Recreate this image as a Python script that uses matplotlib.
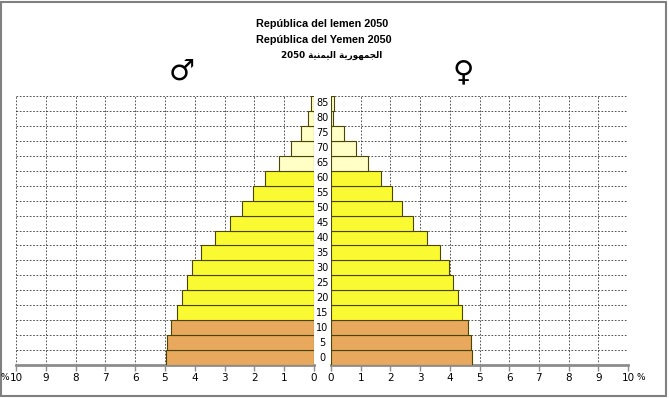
import matplotlib
matplotlib.use("Agg")
import matplotlib.pyplot as plt
from matplotlib.patches import Rectangle

# ---------------- data ----------------
ages = [0, 5, 10, 15, 20, 25, 30, 35, 40, 45, 50, 55, 60, 65, 70, 75, 80, 85]
male = [4.97, 4.92, 4.81, 4.60, 4.43, 4.27, 4.10, 3.78, 3.32, 2.82, 2.43, 2.04, 1.64, 1.19, 0.76, 0.43, 0.19, 0.09]
female = [4.74, 4.70, 4.60, 4.42, 4.26, 4.12, 3.98, 3.68, 3.24, 2.77, 2.40, 2.06, 1.68, 1.24, 0.83, 0.45, 0.06, 0.10]
xticks = [0, 1, 2, 3, 4, 5, 6, 7, 8, 9, 10]
title1 = "República del Iemen 2050"
title2 = "República del Yemen 2050"
title3_ar = "الجمهورية اليمنية"
title3_num = "2050"

# ---------------- simple Arabic shaping (visual form) ----------------
FORMS = {
    'ا': ('\uFE8D', '\uFE8E', None, None),
    'ل': ('\uFEDD', '\uFEDE', '\uFEDF', '\uFEE0'),
    'ج': ('\uFE9D', '\uFE9E', '\uFE9F', '\uFEA0'),
    'م': ('\uFEE1', '\uFEE2', '\uFEE3', '\uFEE4'),
    'ه': ('\uFEE9', '\uFEEA', '\uFEEB', '\uFEEC'),
    'و': ('\uFEED', '\uFEEE', None, None),
    'ر': ('\uFEAD', '\uFEAE', None, None),
    'ي': ('\uFEF1', '\uFEF2', '\uFEF3', '\uFEF4'),
    'ة': ('\uFE93', '\uFE94', None, None),
    'ن': ('\uFEE5', '\uFEE6', '\uFEE7', '\uFEE8'),
}


def shape(text):
    out = []
    n = len(text)
    for i, ch in enumerate(text):
        if ch not in FORMS:
            out.append(ch)
            continue
        iso, fin, ini, med = FORMS[ch]
        prev = text[i - 1] if i > 0 else None
        nxt = text[i + 1] if i < n - 1 else None
        join_prev = prev in FORMS and FORMS[prev][2] is not None
        join_next = nxt in FORMS and ini is not None
        if join_prev and join_next:
            out.append(med)
        elif join_prev:
            out.append(fin)
        elif join_next:
            out.append(ini)
        else:
            out.append(iso)
    return ''.join(out)[::-1]


def colour(age):
    if age < 15:
        return '#E8A95E'
    if age < 65:
        return '#FAFA32'
    return '#FFFFC6'


colors = [colour(a) for a in ages]

W, H = 669, 398
fig = plt.figure(figsize=(W / 100, H / 100), dpi=100)
fig.patch.set_facecolor('white')

def fx(px):
    return px / W

def fy(py):
    return 1 - py / H

top_px, bot_px = 96, 365
axL = fig.add_axes([fx(16), fy(bot_px), fx(314 - 16), (bot_px - top_px) / H])
axR = fig.add_axes([fx(331), fy(bot_px), fx(628 - 331), (bot_px - top_px) / H])

grid_kw = dict(color='#333333', linestyle=(0, (2, 2)), linewidth=0.6, zorder=1)
edge = '#4a4500'
tick_font = ['Liberation Sans Narrow', 'DejaVu Sans']

for ax, vals in ((axL, male), (axR, female)):
    ax.barh(ages, vals, height=5, align='edge', color=colors,
            edgecolor=edge, linewidth=0.8, zorder=3)
    ax.set_xlim(0, 10)
    ax.set_ylim(0, 90)
    for x in xticks[1:]:
        ax.axvline(x, **grid_kw)
    for a in ages[1:] + [90]:
        ax.axhline(a, **grid_kw)
    for s in ('top', 'left', 'right'):
        ax.spines[s].set_visible(False)
    ax.spines['bottom'].set_color('#8c8c8c')
    ax.spines['bottom'].set_linewidth(2)
    ax.set_yticks([])
    ax.set_xticks(xticks)
    ax.set_xticklabels([str(t) for t in xticks], family=tick_font, fontsize=7.5)
    ax.tick_params(axis='x', length=4, width=1, color='#8c8c8c', pad=2)
    ax.set_facecolor('none')

axL.invert_xaxis()

# age labels in the gap
for a in ages:
    fig.text(fx(322.5), fy(bot_px - (a + 2.5) / 90 * (bot_px - top_px)), str(a),
             ha='center', va='center', fontsize=7, family=tick_font)

# percent signs
fig.text(fx(5), fy(377), '%', ha='center', va='center', fontsize=6.5, family=tick_font)
fig.text(fx(641), fy(378), '%', ha='center', va='center', fontsize=6.5, family=tick_font)

# titles
fig.text(fx(256), fy(24), title1, ha='left', va='center', fontsize=7.8,
         fontweight='bold', family='Liberation Sans')
fig.text(fx(256), fy(40), title2, ha='left', va='center', fontsize=7.8,
         fontweight='bold', family='Liberation Sans')
fig.text(fx(332), fy(55), title3_num + ' ' + shape(title3_ar), ha='center', va='center',
         fontsize=6.3, fontweight='bold', family=['DejaVu Sans'])

# sex symbols
fig.text(fx(182), fy(72), '\u2642', ha='center', va='center', fontsize=21, family='DejaVu Sans')
fig.text(fx(463), fy(72), '\u2640', ha='center', va='center', fontsize=21, family='DejaVu Sans')

# frame
fig.patches.append(Rectangle((0.001, 0.004), 0.994, 0.992, transform=fig.transFigure,
                             fill=False, edgecolor='#808080', linewidth=1.5))

fig.savefig('out.png', dpi=100)
